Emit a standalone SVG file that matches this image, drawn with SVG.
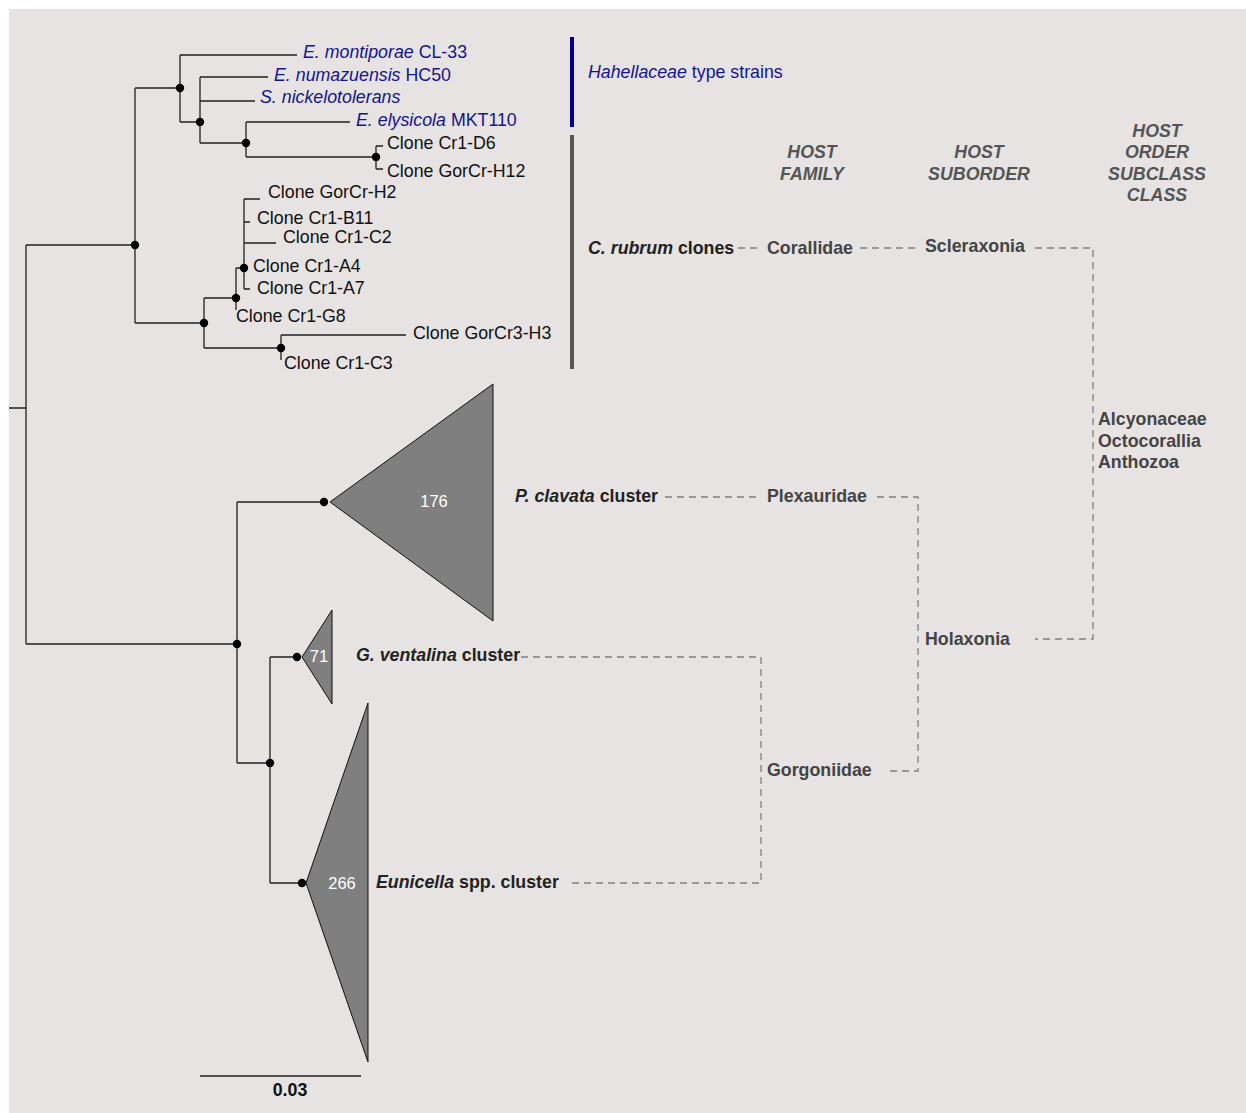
<svg xmlns="http://www.w3.org/2000/svg" width="1246" height="1113" viewBox="0 0 1246 1113">
<style>
text{font-family:"Liberation Sans",Arial,sans-serif;font-size:17.8px}
.tip{fill:#111}
.blue{fill:#14148f}
.it{font-style:italic}
.b{font-weight:bold}
.lab{font-weight:bold;fill:#444}
.hdr{font-weight:bold;font-style:italic;fill:#555;text-anchor:middle}
.br{fill:none;stroke:#222;stroke-width:1.3}
.dash{fill:none;stroke:#808080;stroke-width:1.3;stroke-dasharray:7,5}
.tri{fill:#7f7f7f;stroke:#111;stroke-width:1}
.num{fill:#fff;font-size:16.5px;text-anchor:middle}
</style>
<defs><circle id="nd" r="4.2" fill="#000"/></defs>
<rect x="0" y="0" width="1246" height="1113" fill="#fff"/>
<rect x="9" y="9" width="1237" height="1104" fill="#e6e3e2"/>

<g id="connectors">
<path class="br" d="M9,408H26M26,245V644M26,245H135M135,88V323M135,88H180M180,55V122M180,55H297M180,122H200M200,77V143M200,77H268M200,101H255M200,143H246M246,122V157M246,122H350M246,157H376M376,146V169M376,146H383M376,169H383"/>
<path class="br" d="M135,323H204M204,298V348M204,298H236M236,268V310M236,268H244M244,199V289M244,199H260M244,222H250M244,243H276M244,289H250M204,348H281M281,335V360M281,335H406"/>
<path class="br" d="M26,644H237M237,502V763M237,502H324M237,763H270M270,657V883M270,657H297M270,883H302"/>
<path class="dash" d="M738,248H762M860,248H920M1035,248H1093V639H1035M665,497H760M877,497H918V771H885M521,657H761V883H567"/>
</g>

<g id="nodes">
<use href="#nd" x="180" y="88"/>
<use href="#nd" x="200" y="122"/>
<use href="#nd" x="246" y="143"/>
<use href="#nd" x="376" y="157"/>
<use href="#nd" x="135" y="245"/>
<use href="#nd" x="244" y="268"/>
<use href="#nd" x="236" y="298"/>
<use href="#nd" x="204" y="323"/>
<use href="#nd" x="281" y="348"/>
<use href="#nd" x="237" y="644"/>
<use href="#nd" x="270" y="763"/>
</g>

<g id="tips">
<text class="blue" x="303" y="58"><tspan class="it">E. montiporae</tspan> CL-33</text>
<text class="blue" x="274" y="81"><tspan class="it">E. numazuensis</tspan> HC50</text>
<text class="blue it" x="260" y="103">S. nickelotolerans</text>
<text class="blue" x="356" y="126"><tspan class="it">E. elysicola</tspan> MKT110</text>
<text class="tip" x="387" y="149">Clone Cr1-D6</text>
<text class="tip" x="387" y="177">Clone GorCr-H12</text>
<text class="tip" x="268" y="198">Clone GorCr-H2</text>
<text class="tip" x="257" y="224">Clone Cr1-B11</text>
<text class="tip" x="283" y="243">Clone Cr1-C2</text>
<text class="tip" x="253" y="272">Clone Cr1-A4</text>
<text class="tip" x="257" y="294">Clone Cr1-A7</text>
<text class="tip" x="236" y="322">Clone Cr1-G8</text>
<text class="tip" x="413" y="339">Clone GorCr3-H3</text>
<text class="tip" x="284" y="369">Clone Cr1-C3</text>
</g>

<g id="clade-pclavata">
<polygon class="tri" points="330,502 493,384 493,621"/>
<use href="#nd" x="324" y="502"/>
<text class="num" x="434" y="507">176</text>
</g>
<g id="clade-gventalina">
<polygon class="tri" points="302,657 332,610 332,704"/>
<use href="#nd" x="297" y="657"/>
<text class="num" x="319" y="662">71</text>
</g>
<g id="clade-eunicella">
<polygon class="tri" points="306,883 368,703 368,1062"/>
<use href="#nd" x="302" y="883"/>
<text class="num" x="342" y="889">266</text>
</g>

<g id="bars">
<rect x="570" y="37" width="4" height="90" fill="#00008b"/>
<rect x="570" y="135" width="4" height="234" fill="#555"/>
<text class="blue" x="588" y="78"><tspan class="it">Hahellaceae</tspan> type strains</text>
</g>

<g id="headers">
<text class="hdr" x="812" y="158">HOST</text>
<text class="hdr" x="812" y="180">FAMILY</text>
<text class="hdr" x="979" y="158">HOST</text>
<text class="hdr" x="979" y="180">SUBORDER</text>
<text class="hdr" x="1157" y="137">HOST</text>
<text class="hdr" x="1157" y="158">ORDER</text>
<text class="hdr" x="1157" y="180">SUBCLASS</text>
<text class="hdr" x="1157" y="201">CLASS</text>
</g>

<g id="labels">
<text class="b" x="588" y="254" fill="#222"><tspan class="it">C. rubrum</tspan> clones</text>
<text class="lab" x="767" y="254">Corallidae</text>
<text class="lab" x="925" y="252">Scleraxonia</text>
<text class="b" x="515" y="502" fill="#222"><tspan class="it">P. clavata</tspan> cluster</text>
<text class="lab" x="767" y="502">Plexauridae</text>
<text class="b" x="356" y="661" fill="#222"><tspan class="it">G. ventalina</tspan> cluster</text>
<text class="b" x="376" y="888" fill="#222"><tspan class="it">Eunicella</tspan> spp. cluster</text>
<text class="lab" x="767" y="776">Gorgoniidae</text>
<text class="lab" x="925" y="645">Holaxonia</text>
<text class="lab" x="1098" y="425">Alcyonaceae</text>
<text class="lab" x="1098" y="447">Octocorallia</text>
<text class="lab" x="1098" y="468">Anthozoa</text>
</g>

<g id="scale">
<path class="br" d="M200,1076H361"/>
<text class="b" x="290" y="1096" text-anchor="middle" fill="#111">0.03</text>
</g>
</svg>
